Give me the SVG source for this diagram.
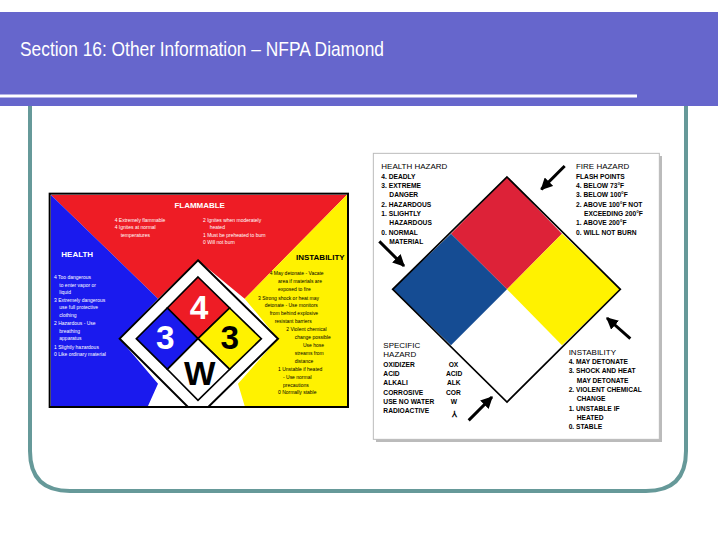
<svg xmlns="http://www.w3.org/2000/svg" width="720" height="540" viewBox="0 0 720 540">
<style>
.t{font-family:"Liberation Sans",Arial,sans-serif}
.s{font-size:15px;fill:#fff}
.y{font-size:15px;fill:#000}
.r{font-family:"Liberation Sans",Arial,sans-serif;font-size:20px;font-weight:bold;fill:#000}
.big{font-family:"Liberation Sans",Arial,sans-serif;font-weight:bold;font-size:100px;text-anchor:middle}
</style>
<defs>
<marker id="ah" viewBox="0 0 10 10" refX="9" refY="5" markerWidth="4" markerHeight="4" orient="auto"><path d="M0,0 L10,5 L0,10 z" fill="#000"/></marker>
<clipPath id="lc"><rect x="8" y="8" width="889" height="634"/></clipPath>
</defs>
<rect width="720" height="540" fill="#fff"/>
<g id="header">
<rect x="0" y="12" width="718" height="94" fill="#6666cc"/>
<rect x="0" y="94.5" width="637" height="3" fill="#fff"/>
<text class="t" x="20" y="56" font-size="21" fill="#fff" textLength="364" lengthAdjust="spacingAndGlyphs">Section 16: Other Information – NFPA Diamond</text>
</g>
<path id="frame" d="M30,106 V451 Q30,491 70,491 H646 Q686,491 686,451 V106" fill="none" stroke="#669999" stroke-width="4"/>

<g id="left-image" transform="translate(48,192) scale(0.33333)">
<rect x="5" y="5" width="895" height="640" fill="#fff" stroke="#000" stroke-width="6"/>
<g clip-path="url(#lc)">
<polygon points="8,8 897,8 590,320 450,205 330,320" fill="#ee1c25"/>
<polygon points="8,8 330,320 215,440 330,575 300,642 8,642" fill="#1a1aee"/>
<polygon points="897,8 590,320 690,440 570,575 590,642 897,642" fill="#fff200"/>
<polygon points="450,205 690,440 450,675 215,440" fill="#fff" stroke="#000" stroke-width="6"/>
<polygon points="450,255 545,348 450,440 358,348" fill="#ee1c25" stroke="#000" stroke-width="5"/>
<polygon points="358,348 450,440 358,532 265,440" fill="#1a1aee" stroke="#000" stroke-width="5"/>
<polygon points="545,348 640,440 545,532 450,440" fill="#fff200" stroke="#000" stroke-width="5"/>
<polygon points="450,440 545,532 450,625 358,532" fill="#fff" stroke="#000" stroke-width="5"/>
</g>
<text class="big" x="453" y="380" fill="#fff">4</text>
<text class="big" x="352" y="470" fill="#fff">3</text>
<text class="big" x="545" y="470" fill="#000">3</text>
<text class="big" x="455" y="580" fill="#000" font-size="80">W</text>
<g class="t">
<text x="455" y="48" font-size="24" font-weight="bold" fill="#fff" text-anchor="middle">FLAMMABLE</text>
<text class="s" x="200" y="90">4  Extremely flammable</text>
<text class="s" x="200" y="112">4  Ignites at normal</text>
<text class="s" x="218" y="134">temperatures</text>
<text class="s" x="465" y="90">2  Ignites when moderately</text>
<text class="s" x="485" y="112">heated</text>
<text class="s" x="465" y="134">1  Must be preheated to burn</text>
<text class="s" x="465" y="156">0  Will not burn</text>
<text x="40" y="195" font-size="24" font-weight="bold" fill="#fff">HEALTH</text>
<text class="s" x="18" y="262">4 Too dangerous</text>
<text class="s" x="34" y="284">to enter vapor or</text>
<text class="s" x="34" y="306">liquid</text>
<text class="s" x="18" y="330">3 Extremely dangerous</text>
<text class="s" x="34" y="352">use full protective</text>
<text class="s" x="34" y="374">clothing</text>
<text class="s" x="18" y="400">2 Hazardous - Use</text>
<text class="s" x="34" y="422">breathing</text>
<text class="s" x="34" y="444">apparatus</text>
<text class="s" x="18" y="470">1 Slightly hazardous</text>
<text class="s" x="18" y="492">0 Like ordinary material</text>
<text x="890" y="205" font-size="24" font-weight="bold" fill="#000" text-anchor="end">INSTABILITY</text>
<text class="y" x="665" y="248">4  May detonate - Vacate</text>
<text class="y" x="690" y="272">area if materials are</text>
<text class="y" x="690" y="296">exposed to fire</text>
<text class="y" x="630" y="324">3  Strong shock or heat may</text>
<text class="y" x="650" y="346">detonate - Use monitors</text>
<text class="y" x="665" y="370">from behind explosive</text>
<text class="y" x="680" y="392">resistant barriers</text>
<text class="y" x="715" y="418">2  Violent chemical</text>
<text class="y" x="740" y="442">change possible</text>
<text class="y" x="765" y="466">Use hose</text>
<text class="y" x="740" y="490">streams  from</text>
<text class="y" x="740" y="512">distance</text>
<text class="y" x="690" y="538">1  Unstable if heated</text>
<text class="y" x="705" y="560">- Use normal</text>
<text class="y" x="705" y="584">precautions</text>
<text class="y" x="690" y="606">0  Normally stable</text>
</g>
</g>

<g id="right-image" transform="translate(372,152) scale(0.33333)">
<rect x="12" y="12" width="858" height="858" fill="#bbb"/>
<rect x="4" y="4" width="858" height="858" fill="#fff" stroke="#bbb" stroke-width="3"/>
<polygon points="405,75 570,245 405,412 237,245" fill="#dd2238"/>
<polygon points="237,245 405,412 237,580 62,412" fill="#154c93"/>
<polygon points="570,245 745,412 570,580 405,412" fill="#fff200"/>
<polygon points="405,75 745,412 405,750 62,412" fill="none" stroke="#000" stroke-width="5"/>
<g stroke="#000" stroke-width="9" marker-end="url(#ah)">
<line x1="578" y1="42" x2="508" y2="112"/>
<line x1="22" y1="268" x2="96" y2="342"/>
<line x1="775" y1="560" x2="705" y2="498"/>
<line x1="290" y1="805" x2="360" y2="735"/>
</g>
<g class="r">
<text x="28" y="52" font-size="24" font-weight="normal">HEALTH HAZARD</text>
<text x="28" y="80">4. DEADLY</text>
<text x="28" y="108">3. EXTREME</text>
<text x="52" y="136">DANGER</text>
<text x="28" y="164">2. HAZARDOUS</text>
<text x="28" y="192">1. SLIGHTLY</text>
<text x="52" y="220">HAZARDOUS</text>
<text x="28" y="248">0. NORMAL</text>
<text x="52" y="276">MATERIAL</text>
<text x="612" y="52" font-size="24" font-weight="normal">FIRE HAZARD</text>
<text x="612" y="80">FLASH POINTS</text>
<text x="612" y="108">4. BELOW 73°F</text>
<text x="612" y="136">3. BELOW 100°F</text>
<text x="612" y="164">2. ABOVE 100°F NOT</text>
<text x="636" y="192">EXCEEDING 200°F</text>
<text x="612" y="220">1. ABOVE 200°F</text>
<text x="612" y="248">0. WILL NOT BURN</text>
<text x="34" y="588" font-size="24" font-weight="normal">SPECIFIC</text>
<text x="34" y="614" font-size="24" font-weight="normal">HAZARD</text>
<text x="34" y="644">OXIDIZER</text>
<text x="34" y="672">ACID</text>
<text x="34" y="700">ALKALI</text>
<text x="34" y="728">CORROSIVE</text>
<text x="34" y="756">USE NO WATER</text>
<text x="34" y="784">RADIOACTIVE</text>
<text x="230" y="644">OX</text>
<text x="222" y="672">ACID</text>
<text x="225" y="700">ALK</text>
<text x="222" y="728">COR</text>
<text x="236" y="756">W</text>
<text x="240" y="795" font-size="26">⅄</text>
<text x="590" y="608" font-size="24" font-weight="normal">INSTABILITY</text>
<text x="590" y="636">4. MAY DETONATE</text>
<text x="590" y="664">3. SHOCK AND HEAT</text>
<text x="614" y="692">MAY DETONATE</text>
<text x="590" y="720">2. VIOLENT CHEMICAL</text>
<text x="614" y="748">CHANGE</text>
<text x="590" y="776">1. UNSTABLE IF</text>
<text x="614" y="804">HEATED</text>
<text x="590" y="832">0. STABLE</text>
</g>
</g>
</svg>
